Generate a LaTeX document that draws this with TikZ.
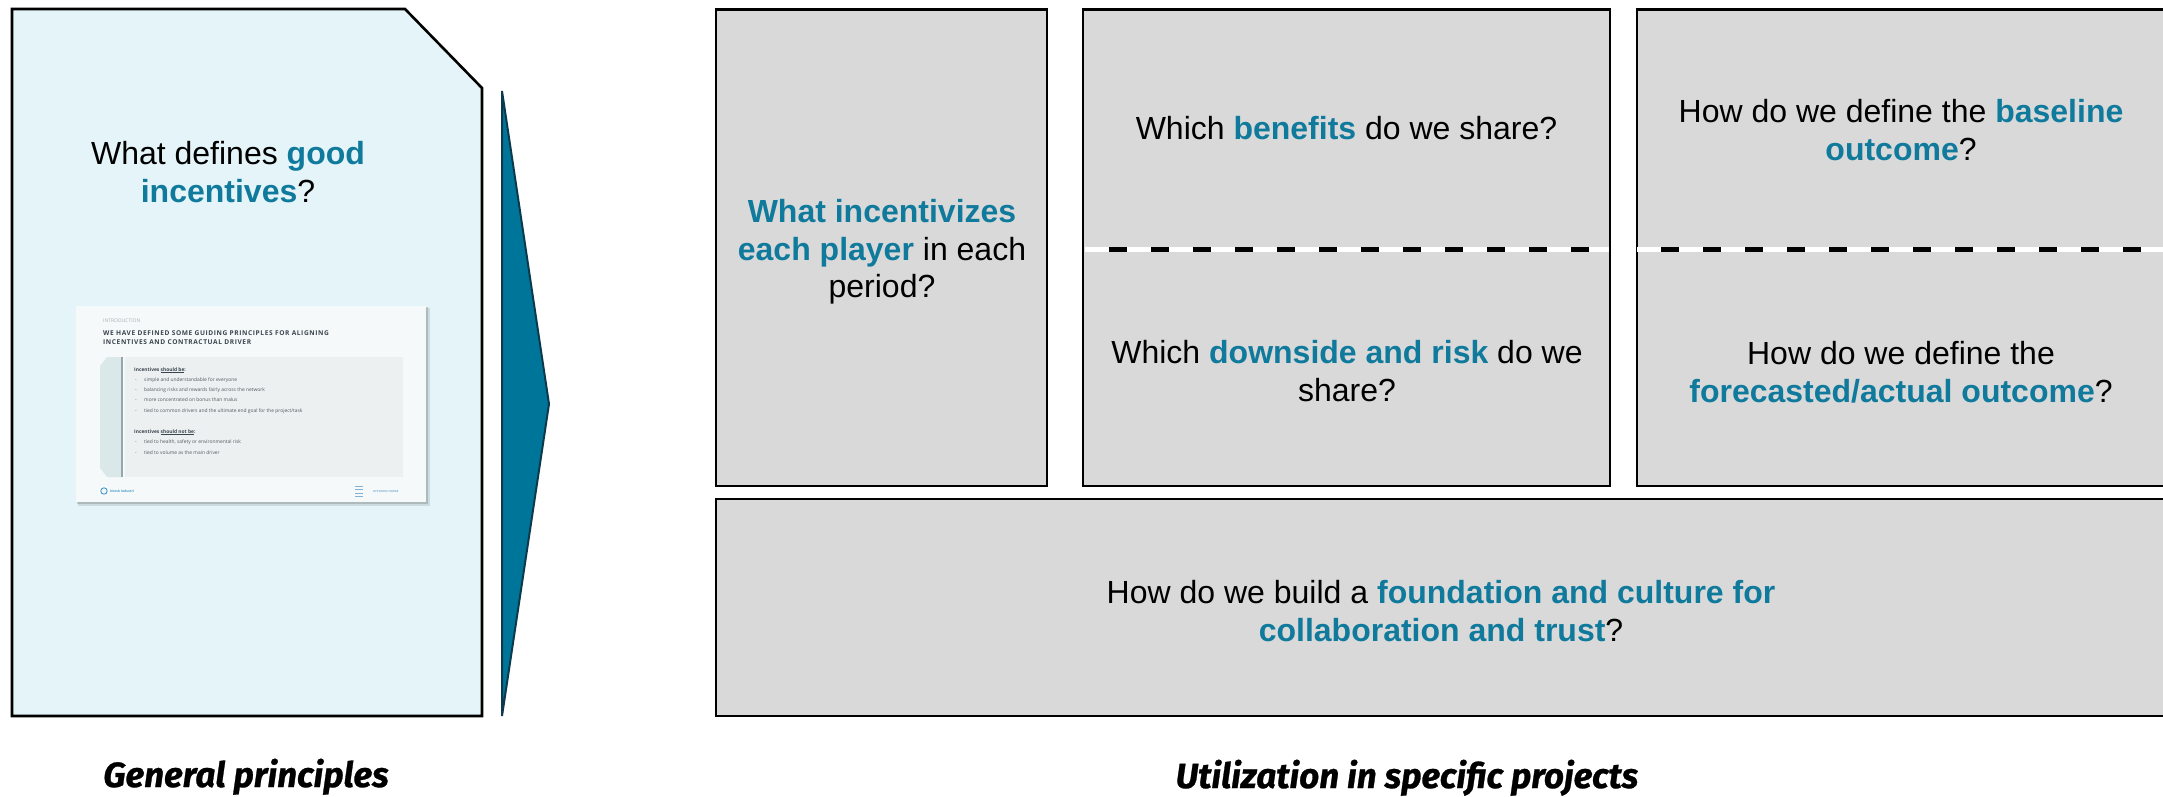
\documentclass[tikz,border=0pt]{standalone}
\usepackage{fontspec}
\setmainfont{Liberation Sans}
\newfontfamily\labelfont[FakeBold=0.8]{Fira Sans}
\newfontfamily\slidefont{Open Sans}
\definecolor{tealhl}{RGB}{16,122,156}
\definecolor{arrowteal}{RGB}{0,117,154}
\definecolor{arrowedge}{RGB}{12,58,76}
\definecolor{panelblue}{RGB}{228,244,248}
\definecolor{cellgray}{RGB}{217,217,217}
\definecolor{slidebg}{RGB}{246,249,250}
\definecolor{slidepanel}{RGB}{236,240,241}
\definecolor{slideorn}{RGB}{219,232,234}
\definecolor{slidebar}{RGB}{150,166,172}
\definecolor{slidetitle}{RGB}{58,68,78}
\definecolor{slidegray}{RGB}{168,176,180}
\definecolor{slidetext}{RGB}{85,90,94}
\definecolor{logoblue}{RGB}{70,152,196}
\definecolor{logolight}{RGB}{130,178,214}
\newcommand\hlt[1]{\textbf{\color{tealhl}#1}}
\begin{document}
\begin{tikzpicture}[x=1pt,y=-1pt,
  panel/.style={draw=black, line width=2.6pt, fill=panelblue, line join=miter},
  chevron/.style={draw=arrowedge, line width=2pt, fill=arrowteal, line join=miter},
  cell/.style={draw=black, line width=2.4pt, fill=cellgray},
  question/.style={font=\fontsize{32}{37.5}\selectfont, align=center, text=black, inner sep=0pt},
  splitwhite/.style={draw=white, line width=5pt},
  splitdash/.style={draw=black, line width=5pt, dash pattern=on 18pt off 24pt, dash phase=18pt},
  caption/.style={font=\labelfont\fontsize{35}{38}\selectfont\bfseries\itshape, anchor=base, inner sep=0pt},
  stext/.style={font=\slidefont\fontsize{4.9}{5.5}\selectfont, text=slidetext, anchor=base west, inner sep=0pt},
  shead/.style={font=\slidefont\fontsize{4.9}{5.5}\selectfont\bfseries, text=slidetitle, anchor=base west, inner sep=0pt}]
\path[use as bounding box] (0,0) rectangle (2163,796);
\clip (0,0) rectangle (2163,796);

% left panel with cut corner
\draw[panel] (12,9) -- (405,9) -- (482,88) -- (482,716) -- (12,716) -- cycle;
\node[question] (good) at (228,172) {What defines \hlt{good}\\\hlt{incentives}?};

% thumbnail of the guiding-principles slide
\fill[black, opacity=0.10] (78,308) rectangle (430,506);
\fill[black, opacity=0.15] (77,307) rectangle (428,504);
\fill[slidebg] (76,306) rectangle (426,502);
\node[font=\slidefont\fontsize{5}{6}\selectfont, text=slidegray, anchor=base west, inner sep=0pt] (intro) at (103,322) {INTRODUCTION};
% base anchor of a multi-line node sits on its last line
\node[font=\slidefont\fontsize{6.6}{9}\selectfont\bfseries\addfontfeatures{LetterSpace=9}, text=slidetitle, anchor=base west, align=left, inner sep=0pt] (title) at (103,344)
  {WE HAVE DEFINED SOME GUIDING PRINCIPLES FOR ALIGNING\\INCENTIVES AND CONTRACTUAL DRIVER};
\fill[slidepanel] (125,357) rectangle (403,477);
\fill[slideorn] (107,357) -- (122,357) -- (122,477) -- (107,477) -- (100,468) -- (100,366) -- cycle;
\draw[slidebar, line width=1.3pt] (122,357) -- (122,477);
\node[shead] (sb) at (134,371) {Incentives \underline{should be}:};
\node[stext] (b1) at (144,381) {simple and understandable for everyone};
\node[stext] (b2) at (144,391) {balancing risks and rewards fairly across the network};
\node[stext] (b3) at (144,401.5) {more concentrated on bonus than malus};
\node[stext] (b4) at (144,412) {tied to common drivers and the ultimate end goal for the project/task};
\node[shead] (snb) at (134,433) {Incentives \underline{should not be}:};
\node[stext] (b5) at (144,443) {tied to health, safety or environmental risk};
\node[stext] (b6) at (144,454) {tied to volume as the main driver};
\foreach \yy/\nm in {381/d1,391/d2,401.5/d3,412/d4,443/d5,454/d6}
  \node[stext] (\nm) at (135,\yy) {-};
\draw[logoblue, line width=0.9pt] (104,491) circle (3.2);
\node[font=\slidefont\fontsize{3.3}{4}\selectfont\bfseries, text=logoblue, anchor=base west, inner sep=0pt] (norsk) at (110,492.2) {Norsk Industri};
\foreach \yy in {486,489.5,493,496.5}
  \draw[logolight, line width=0.7pt] (355,\yy) -- (363,\yy);
\node[font=\slidefont\fontsize{2.8}{3}\selectfont\bfseries, text=logolight, anchor=base west, inner sep=0pt] (offshore) at (373,492.5) {OFFSHORE NORGE};

% arrow between the two parts
\draw[chevron] (502,91) -- (549,404) -- (502,716) -- cycle;

% question grid
\draw[cell] (716,9.6) rectangle (1047,486);
\draw[cell] (1083,9.6) rectangle (1610,486);
\draw[cell] (1637,9.6) rectangle (2168,486);
\draw[cell] (716,499) rectangle (2168,716);

\path[splitwhite] (1084.5,249) -- (1608.5,249);
\path[splitdash] (1084.5,249) -- (1608.5,249);
\path[splitwhite] (1637,249) -- (2168,249);
\path[splitdash] (1637,249) -- (2168,249);

\node[question] (player) at (882,252) {\hlt{What incentivizes}\\\hlt{each player} in each\\period?};
\node[question] (benefits) at (1346.5,128) {Which \hlt{benefits} do we share?};
\node[question] (risk) at (1347,371) {Which \hlt{downside and risk} do we\\share?};
\node[question] (baseline) at (1901,130) {How do we define the \hlt{baseline}\\\hlt{outcome}?};
\node[question] (actual) at (1901,372) {How do we define the\\\hlt{forecasted/actual outcome}?};
\node[question] (trust) at (1441,611) {How do we build a \hlt{foundation and culture for}\\\hlt{collaboration and trust}?};

% captions
\node[caption] (general) at (246,787) {General principles};
\node[caption] (specific) at (1407,788) {Utilization in specific projects};
\end{tikzpicture}
\end{document}
